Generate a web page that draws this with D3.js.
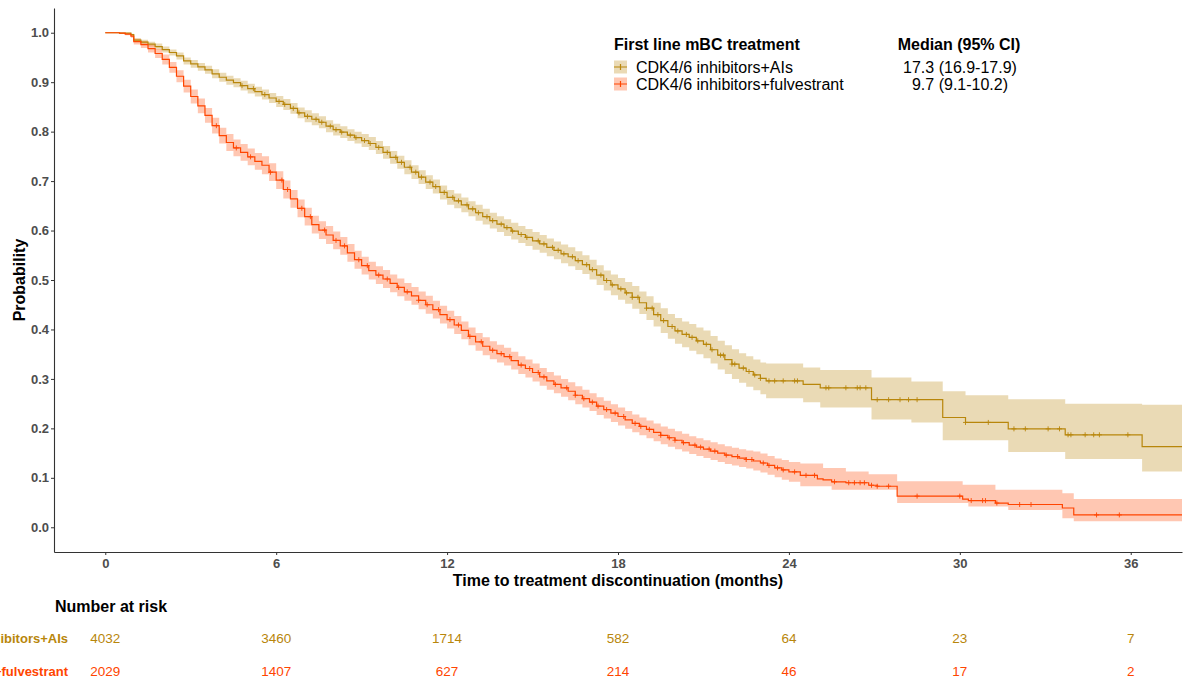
<!DOCTYPE html>
<html>
<head>
<meta charset="utf-8">
<script src="https://cdn.jsdelivr.net/npm/d3@7/dist/d3.min.js"></script>
<style>
    body { margin: 0; background: #fff; }
    text { font-family: Arial, "Liberation Sans", sans-serif; }
</style>
</head>
<body>
<svg id="kmChart" width="1187" height="684"></svg>
<script>
// groups, legend and risk table
var groups = ['CDK4/6 inhibitors+AIs', 'CDK4/6 inhibitors+fulvestrant'];
var medians = ['17.3 (16.9-17.9)', '9.7 (9.1-10.2)'];
var lineColors = ['#b8860b', '#ff4500'];
var xTicks = [0, 6, 12, 18, 24, 30, 36];
var yTicks = [0, 0.1, 0.2, 0.3, 0.4, 0.5, 0.6, 0.7, 0.8, 0.9, 1.0];
var riskAIs = [4032, 3460, 1714, 582, 64, 23, 7];
var riskFulv = [2029, 1407, 627, 214, 46, 17, 2];

// [time, survival, lower 95%, upper 95%]
var aisCurve = [
    [0, 1.000, 1.000, 1.000], [0.5, 0.999, 0.998, 1.000], [0.9, 0.996, 0.994, 0.998], [1.0, 0.985, 0.981, 0.989],
    [1.25, 0.981, 0.976, 0.986], [1.5, 0.977, 0.972, 0.982], [1.75, 0.972, 0.966, 0.978], [2.0, 0.966, 0.960, 0.972],
    [2.25, 0.960, 0.954, 0.966], [2.5, 0.953, 0.946, 0.960], [2.75, 0.943, 0.936, 0.950], [3.0, 0.937, 0.929, 0.945],
    [3.25, 0.931, 0.923, 0.939], [3.5, 0.925, 0.917, 0.933], [3.75, 0.917, 0.908, 0.926], [4.0, 0.910, 0.901, 0.919],
    [4.25, 0.904, 0.895, 0.913], [4.5, 0.899, 0.890, 0.908], [4.75, 0.893, 0.883, 0.903], [5.0, 0.887, 0.877, 0.897],
    [5.25, 0.881, 0.871, 0.891], [5.5, 0.875, 0.865, 0.885], [5.75, 0.868, 0.858, 0.878], [6.0, 0.861, 0.850, 0.872],
    [6.25, 0.855, 0.844, 0.866], [6.5, 0.847, 0.836, 0.858], [6.75, 0.838, 0.827, 0.849], [7.0, 0.831, 0.819, 0.843],
    [7.25, 0.825, 0.813, 0.837], [7.5, 0.819, 0.807, 0.831], [7.75, 0.811, 0.799, 0.823], [8.0, 0.804, 0.792, 0.816],
    [8.25, 0.799, 0.787, 0.811], [8.5, 0.793, 0.781, 0.805], [8.75, 0.788, 0.776, 0.800], [9.0, 0.782, 0.769, 0.795],
    [9.25, 0.776, 0.763, 0.789], [9.5, 0.768, 0.755, 0.781], [9.75, 0.758, 0.745, 0.771], [10.0, 0.748, 0.735, 0.761],
    [10.25, 0.738, 0.725, 0.751], [10.5, 0.728, 0.714, 0.742], [10.75, 0.718, 0.704, 0.732], [11.0, 0.708, 0.694, 0.722],
    [11.25, 0.698, 0.684, 0.712], [11.5, 0.689, 0.675, 0.703], [11.75, 0.677, 0.663, 0.691], [12.0, 0.667, 0.652, 0.682],
    [12.25, 0.660, 0.645, 0.675], [12.5, 0.652, 0.637, 0.667], [12.75, 0.644, 0.629, 0.659], [13.0, 0.636, 0.620, 0.652],
    [13.25, 0.628, 0.612, 0.644], [13.5, 0.620, 0.604, 0.636], [13.75, 0.613, 0.597, 0.629], [14.0, 0.606, 0.589, 0.623],
    [14.25, 0.599, 0.582, 0.616], [14.5, 0.592, 0.575, 0.609], [14.75, 0.586, 0.569, 0.603], [15.0, 0.579, 0.561, 0.597],
    [15.25, 0.573, 0.555, 0.591], [15.5, 0.566, 0.548, 0.584], [15.75, 0.560, 0.542, 0.578], [16.0, 0.553, 0.534, 0.572],
    [16.25, 0.547, 0.528, 0.566], [16.5, 0.539, 0.520, 0.558], [16.75, 0.531, 0.512, 0.550], [17.0, 0.521, 0.501, 0.541],
    [17.25, 0.510, 0.490, 0.530], [17.5, 0.499, 0.479, 0.519], [17.75, 0.490, 0.469, 0.511], [18.0, 0.482, 0.460, 0.504],
    [18.25, 0.474, 0.452, 0.496], [18.5, 0.465, 0.442, 0.488], [18.75, 0.454, 0.431, 0.477], [19.0, 0.443, 0.419, 0.467],
    [19.25, 0.430, 0.406, 0.454], [19.5, 0.418, 0.393, 0.443], [19.75, 0.406, 0.381, 0.431], [20.0, 0.397, 0.371, 0.423],
    [20.25, 0.390, 0.364, 0.416], [20.5, 0.384, 0.357, 0.411], [20.75, 0.377, 0.350, 0.404], [21.0, 0.370, 0.342, 0.398],
    [21.25, 0.359, 0.331, 0.387], [21.5, 0.348, 0.319, 0.377], [21.75, 0.339, 0.310, 0.368], [22.0, 0.330, 0.300, 0.360],
    [22.25, 0.322, 0.292, 0.352], [22.5, 0.315, 0.284, 0.346], [22.75, 0.308, 0.277, 0.339], [23.0, 0.301, 0.269, 0.333],
    [23.2, 0.296, 0.261, 0.331], [24.5, 0.289, 0.253, 0.323], [25.1, 0.282, 0.242, 0.318], [26.9, 0.258, 0.218, 0.303],
    [28.3, 0.258, 0.212, 0.295], [29.4, 0.222, 0.176, 0.275], [30.2, 0.212, 0.176, 0.267], [31.7, 0.199, 0.152, 0.259],
    [33.7, 0.187, 0.138, 0.250], [36.4, 0.163, 0.113, 0.248], [37.8, 0.163, 0.113, 0.248]
];
var aisCensor = [4.8, 5.2, 5.6, 6.1, 6.3, 6.6, 6.8, 7.1, 7.4, 7.6, 7.9, 8.1, 8.3, 8.6, 8.8, 9.1, 9.3, 9.6, 9.9, 10.2,
                 10.4, 10.7, 10.9, 11.1, 11.4, 11.6, 11.9, 12.2, 12.4, 12.7, 12.9, 13.1, 13.4, 13.6, 13.9, 14.1, 14.3, 14.6,
                 14.8, 15.2, 15.4, 15.7, 15.9, 16.1, 16.4, 16.6, 16.9, 17.1, 17.4, 17.6, 17.8, 18.1, 18.3, 18.5, 18.7, 19.0,
                 19.2, 19.4, 19.6, 19.9, 20.1, 20.4, 20.6, 20.8, 21.1, 21.3, 21.6, 21.7, 22.0, 22.1, 22.4, 22.6, 22.8, 23.0,
                 23.3, 23.5, 23.8, 24.2, 24.3, 25.3, 25.4, 26.0, 26.4, 26.5, 26.7, 27.1, 27.5, 27.9, 28.2, 28.5,
                 30.2, 31.0, 31.9, 32.3, 33.1, 33.5, 33.8, 33.9, 34.4, 34.7, 34.9, 35.9];

var fulvCurve = [
    [0, 1.000, 1.000, 1.000], [0.5, 0.999, 0.998, 1.000], [0.7, 0.997, 0.995, 0.999], [0.9, 0.993, 0.990, 0.996],
    [1.0, 0.982, 0.976, 0.988], [1.25, 0.976, 0.969, 0.983], [1.5, 0.968, 0.960, 0.976], [1.75, 0.958, 0.949, 0.967],
    [2.0, 0.946, 0.936, 0.956], [2.25, 0.930, 0.919, 0.941], [2.5, 0.912, 0.900, 0.924], [2.75, 0.892, 0.879, 0.905],
    [3.0, 0.871, 0.857, 0.885], [3.25, 0.852, 0.837, 0.867], [3.5, 0.833, 0.818, 0.848], [3.75, 0.812, 0.796, 0.828],
    [4.0, 0.792, 0.776, 0.808], [4.25, 0.778, 0.761, 0.795], [4.5, 0.767, 0.750, 0.784], [4.75, 0.758, 0.741, 0.775],
    [5.0, 0.749, 0.732, 0.766], [5.25, 0.740, 0.723, 0.757], [5.5, 0.732, 0.714, 0.750], [5.75, 0.718, 0.700, 0.736],
    [6.0, 0.702, 0.684, 0.720], [6.25, 0.683, 0.665, 0.701], [6.5, 0.664, 0.646, 0.682], [6.75, 0.645, 0.627, 0.663],
    [7.0, 0.628, 0.610, 0.646], [7.25, 0.612, 0.594, 0.630], [7.5, 0.601, 0.583, 0.619], [7.75, 0.591, 0.573, 0.609],
    [8.0, 0.580, 0.562, 0.598], [8.25, 0.569, 0.551, 0.587], [8.5, 0.555, 0.537, 0.573], [8.75, 0.541, 0.523, 0.559],
    [9.0, 0.529, 0.511, 0.547], [9.25, 0.519, 0.501, 0.537], [9.5, 0.510, 0.492, 0.528], [9.75, 0.502, 0.484, 0.520],
    [10.0, 0.493, 0.475, 0.511], [10.25, 0.485, 0.467, 0.503], [10.5, 0.476, 0.458, 0.494], [10.75, 0.468, 0.450, 0.486],
    [11.0, 0.459, 0.441, 0.477], [11.25, 0.450, 0.432, 0.468], [11.5, 0.440, 0.422, 0.458], [11.75, 0.430, 0.412, 0.448],
    [12.0, 0.420, 0.402, 0.438], [12.25, 0.409, 0.391, 0.427], [12.5, 0.398, 0.380, 0.416], [12.75, 0.386, 0.368, 0.404],
    [13.0, 0.375, 0.357, 0.393], [13.25, 0.366, 0.348, 0.384], [13.5, 0.358, 0.340, 0.376], [13.75, 0.351, 0.333, 0.369],
    [14.0, 0.345, 0.327, 0.363], [14.25, 0.337, 0.319, 0.355], [14.5, 0.328, 0.310, 0.346], [14.75, 0.321, 0.303, 0.339],
    [15.0, 0.313, 0.295, 0.331], [15.25, 0.304, 0.286, 0.322], [15.5, 0.296, 0.278, 0.314], [15.75, 0.289, 0.271, 0.307],
    [16.0, 0.282, 0.264, 0.300], [16.25, 0.275, 0.257, 0.293], [16.5, 0.267, 0.249, 0.285], [16.75, 0.260, 0.242, 0.278],
    [17.0, 0.253, 0.235, 0.271], [17.25, 0.245, 0.227, 0.263], [17.5, 0.238, 0.220, 0.256], [17.75, 0.231, 0.213, 0.249],
    [18.0, 0.224, 0.206, 0.242], [18.25, 0.217, 0.199, 0.235], [18.5, 0.210, 0.192, 0.228], [18.75, 0.204, 0.186, 0.222],
    [19.0, 0.198, 0.180, 0.216], [19.25, 0.192, 0.174, 0.210], [19.5, 0.186, 0.168, 0.204], [19.75, 0.181, 0.163, 0.199],
    [20.0, 0.176, 0.158, 0.194], [20.25, 0.171, 0.153, 0.189], [20.5, 0.166, 0.148, 0.184], [20.75, 0.162, 0.144, 0.180],
    [21.0, 0.158, 0.140, 0.176], [21.25, 0.154, 0.136, 0.172], [21.5, 0.150, 0.132, 0.168], [21.75, 0.146, 0.128, 0.164],
    [22.0, 0.143, 0.125, 0.161], [22.25, 0.140, 0.122, 0.158], [22.5, 0.137, 0.119, 0.155], [22.75, 0.134, 0.115, 0.153],
    [23.0, 0.130, 0.111, 0.149], [23.25, 0.125, 0.106, 0.144], [23.5, 0.120, 0.101, 0.139], [23.75, 0.116, 0.096, 0.136],
    [24.0, 0.112, 0.092, 0.132], [24.4, 0.105, 0.083, 0.129], [25.0, 0.098, 0.083, 0.129], [25.2, 0.096, 0.083, 0.120],
    [25.5, 0.092, 0.076, 0.120], [26.0, 0.090, 0.076, 0.113], [26.8, 0.085, 0.076, 0.107], [27.1, 0.083, 0.076, 0.107],
    [27.8, 0.063, 0.049, 0.093], [30.1, 0.057, 0.049, 0.086], [30.3, 0.054, 0.042, 0.086], [31.25, 0.049, 0.042, 0.076],
    [31.7, 0.046, 0.035, 0.076], [33.6, 0.039, 0.018, 0.069], [34.0, 0.025, 0.012, 0.057], [37.8, 0.025, 0.012, 0.057]
];
var fulvCensor = [3.9, 4.6, 5.1, 5.8, 6.2, 6.4, 6.9, 7.2, 7.7, 8.1, 8.4, 8.9, 9.2, 9.6, 9.9, 10.3, 10.6, 11.0, 11.3, 11.7,
                  12.1, 12.4, 12.8, 13.2, 13.6, 13.9, 14.2, 14.6, 14.9, 15.2, 15.4, 15.8, 16.2, 16.5, 16.8, 17.1, 17.3, 17.6,
                  17.9, 18.2, 18.6, 18.8, 19.1, 19.5, 19.8, 20.0, 20.3, 20.7, 20.9, 21.2, 21.4, 21.8, 22.2, 22.5, 22.7, 23.1,
                  23.3, 23.6, 23.8, 24.2, 24.6, 24.9,
                  25.6, 26.1, 26.3, 26.5, 26.65, 26.9, 27.1, 27.5, 28.5, 30.0, 30.4, 30.8, 30.9, 31.3, 32.1, 32.5, 34.8, 35.6];

function toRows(curve) {
    return curve.map(function(r) {
        return {time: r[0], surv: r[1], lower: r[2], upper: r[3]};
    });
}

var series = [
    {name: groups[0], color: lineColors[0], rows: toRows(aisCurve), censor: aisCensor},
    {name: groups[1], color: lineColors[1], rows: toRows(fulvCurve), censor: fulvCensor}
];
var riskRows = [riskAIs, riskFulv];

var svg = d3.select('#kmChart');
var plot = {left: 54, right: 1182, top: 8, bottom: 552};

var xScale = d3.scaleLinear().domain([-1.8, 37.8]).range([plot.left, plot.right]);
var yScale = d3.scaleLinear().domain([-0.05, 1.05]).range([plot.bottom, plot.top]);

var area = d3.area()
    .curve(d3.curveStepAfter)
    .x(function(d){ return xScale(d.time); })
    .y0(function(d){ return yScale(d.lower); })
    .y1(function(d){ return yScale(d.upper); });

var line = d3.line()
    .curve(d3.curveStepAfter)
    .x(function(d){ return xScale(d.time); })
    .y(function(d){ return yScale(d.surv); });

// confidence bands first, curves on top
var bands = svg.append('g');
series.forEach(function(s) {
    bands.append('path')
        .attr('d', area(s.rows))
        .attr('fill', s.color)
        .attr('fill-opacity', 0.3);
});

var bisectTime = d3.bisector(function(d){ return d.time; }).right;
function survAt(s, t) {
    var i = bisectTime(s.rows, t) - 1;
    return s.rows[Math.max(i, 0)].surv;
}

var curves = svg.append('g');
series.forEach(function(s) {
    curves.append('path')
        .attr('d', line(s.rows))
        .attr('fill', 'none')
        .attr('stroke', s.color)
        .attr('stroke-width', 1.2);

    // censoring marks
    curves.selectAll(null)
        .data(s.censor)
        .enter().append('path')
            .attr('d', function(t){
                var cx = xScale(t), cy = yScale(survAt(s, t));
                return 'M' + (cx - 2.5) + ',' + cy + 'H' + (cx + 2.5) + 'M' + cx + ',' + (cy - 2.5) + 'V' + (cy + 2.5);
            })
            .attr('stroke', s.color)
            .attr('stroke-width', 0.9);
});

// axes
var yAxis = d3.axisLeft(yScale).tickValues(yTicks).tickFormat(d3.format('.1f')).tickSize(3).tickSizeOuter(0).tickPadding(2);
var xAxis = d3.axisBottom(xScale).tickValues(xTicks).tickFormat(d3.format('d')).tickSize(3).tickSizeOuter(0).tickPadding(4);

var gy = svg.append('g')
    .attr('transform', 'translate(' + plot.left + ',0)')
    .call(yAxis);
var gx = svg.append('g')
    .attr('transform', 'translate(0,' + plot.bottom + ')')
    .call(xAxis);

[gx, gy].forEach(function(g) {
    g.select('.domain').attr('stroke', '#333').attr('stroke-width', 1.1);
    g.selectAll('.tick line').attr('stroke', '#333');
    g.selectAll('.tick text')
        .attr('fill', '#4d4d4d')
        .style('font-size', '13px')
        .style('font-weight', 'bold')
        .style('font-family', 'Arial, "Liberation Sans", sans-serif');
});

svg.append('text')
    .attr('transform', 'translate(25,' + yScale(0.5) + ') rotate(-90)')
    .attr('text-anchor', 'middle')
    .style('font-size', '16px')
    .style('font-weight', 'bold')
    .text('Probability');

svg.append('text')
    .attr('x', (plot.left + plot.right) / 2)
    .attr('y', 586)
    .attr('text-anchor', 'middle')
    .style('font-size', '16px')
    .style('font-weight', 'bold')
    .text('Time to treatment discontinuation (months)');

// legend
var legend = svg.append('g');
legend.append('text').attr('x', 614).attr('y', 50)
    .style('font-size', '16px').style('font-weight', 'bold')
    .text('First line mBC treatment');
legend.append('text').attr('x', 959).attr('y', 50).attr('text-anchor', 'middle')
    .style('font-size', '16px').style('font-weight', 'bold')
    .text('Median (95% CI)');

series.forEach(function(s, i) {
    var cy = 67 + i * 17;
    legend.append('rect')
        .attr('x', 614).attr('y', cy - 6.5)
        .attr('width', 13).attr('height', 13)
        .attr('fill', s.color).attr('fill-opacity', 0.3);
    legend.append('path')
        .attr('d', 'M614,' + cy + 'H627M620.5,' + (cy - 3) + 'V' + (cy + 3))
        .attr('stroke', s.color).attr('stroke-width', 1.2);
    legend.append('text')
        .attr('x', 636).attr('y', cy + 5.5)
        .style('font-size', '16px')
        .text(s.name);
    legend.append('text')
        .attr('x', 960).attr('y', cy + 5.5)
        .attr('text-anchor', 'middle')
        .style('font-size', '16px')
        .text(medians[i]);
});

// number at risk table
svg.append('text')
    .attr('x', 55).attr('y', 612)
    .style('font-size', '16px').style('font-weight', 'bold')
    .text('Number at risk');

riskRows.forEach(function(row, i) {
    var y = 643 + i * 33;
    svg.append('text')
        .attr('x', 68).attr('y', y)
        .attr('text-anchor', 'end')
        .attr('fill', series[i].color)
        .style('font-size', '13px').style('font-weight', 'bold')
        .text(series[i].name);
    svg.selectAll(null)
        .data(row)
        .enter().append('text')
            .attr('x', function(d, j){ return xScale(xTicks[j]); })
            .attr('y', y)
            .attr('text-anchor', 'middle')
            .attr('fill', series[i].color)
            .style('font-size', '13.5px')
            .text(function(d){ return d; });
});
</script>
</body>
</html>
